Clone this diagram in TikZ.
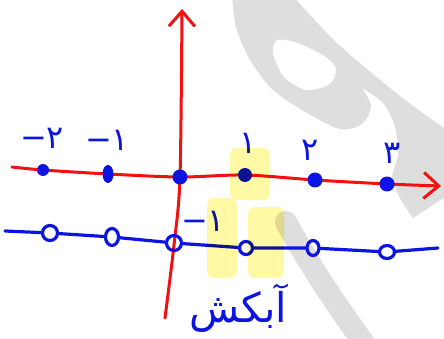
\documentclass[tikz,border=0pt]{standalone}
\usepackage{fontspec}
\usepackage{tikz}
\usetikzlibrary{arrows.meta,calc,positioning,shapes.geometric}
\TeXXeTstate=1
\newfontfamily\farsifont[Script=Arabic]{DejaVu Sans}
\newfontfamily\digitfont{DejaVu Sans}
\definecolor{inkred}{HTML}{F21010}
\definecolor{inkblue}{HTML}{0B14E0}
\definecolor{markyellow}{HTML}{FFF9A6}
\definecolor{wmgray}{HTML}{DEDEDE}
\tikzset{
  axisline/.style={line width=3pt,inkred,line cap=round,line join=round},
  axistip/.style={-{Straight Barb[length=15pt,width=26pt,line width=3pt]}},
  blueline/.style={line width=3.2pt,inkblue,line cap=round},
  dot/.style={circle,fill=inkblue,inner sep=0pt,minimum size=14pt},
  hole/.style={ellipse,draw=inkblue,line width=3.2pt,inner sep=0pt,minimum width=13pt,minimum height=13pt},
  numlabel/.style={inkblue,inner sep=0pt,font=\digitfont\fontsize{32}{32}\selectfont},
  farsiword/.style={inkblue,inner sep=0pt,font=\farsifont\fontsize{41}{41}\selectfont},
  hilite/.style={markyellow,rounded corners=7pt}
}
\begin{document}
\begin{tikzpicture}[x=1pt,y=-1pt]
  \useasboundingbox[fill=white] (0,0) rectangle (444,339);
  % watermark
  \begin{scope}
    \clip (0,0) rectangle (444,339);
    \fill[wmgray,even odd rule]
      plot[smooth] coordinates {(232,-5) (236,27) (250,60) (273,90) (307,113) (340,129) (362,124) (371,106) (362,88)}
      -- plot[smooth] coordinates {(362,88) (383,103) (395,127) (398,155) (392,178) (401,200) (413,218)}
      -- (450,194) -- (450,128)
      -- plot[smooth] coordinates {(444,128) (400,96) (338,44) (292,-5)} -- cycle
      plot[smooth cycle] coordinates {(277,40) (273,54) (284,77) (306,90) (330,84) (336,69) (326,57) (298,43)};
    \draw[wmgray,line width=22pt,line cap=round] (286,222) .. controls (300,248) and (322,285) .. (366,346);
  \end{scope}
  % axes
  \foreach \n/\x/\y in {-2/43/170,-1/108/174,0/180/177,1/245/175,2/315/180,3/387/184}
    \coordinate (c\n) at (\x,\y);
  \coordinate (xleft) at (12,167);
  \coordinate (xright) at (441,186);
  \coordinate (ybot) at (165,318);
  \coordinate (ytop) at (182,9);
  \draw[axisline,axistip] plot[smooth] coordinates {(xleft) (c-2) (c-1) (c0) (c1) (c2) (c3) (xright)};
  \draw[axisline,axistip] plot[smooth] coordinates {(ybot) (174,245) (c0) (ytop)};
  % points on the axis
  \node[dot,minimum size=12pt] (p-2) at (c-2) {};
  \node[dot,ellipse,minimum width=11pt,minimum height=18pt] (p-1) at (c-1) {};
  \node[dot,minimum size=15pt] (p0) at (c0) {};
  \node[dot] (p1) at (c1) {};
  \node[dot,minimum size=15pt] (p2) at (c2) {};
  \node[dot,minimum size=15pt] (p3) at (c3) {};
  \node[numlabel] (n-2) at (42,138) {−۲};
  \node[numlabel] (n-1) at (107,140) {−۱};
  \node[numlabel] (n1) at (248,143) {۱};
  \node[numlabel] (n2) at (310,150) {۲};
  \node[numlabel] (n3) at (392,153) {۳};
  % lower line with holes
  \coordinate (lstart) at (5,231);
  \coordinate (lend) at (438,248);
  \node[hole,minimum width=15pt,minimum height=15pt] (h-2) at (50,233) {};
  \node[hole,minimum width=13pt,minimum height=17pt] (h-1) at (112,237) {};
  \node[hole,minimum width=15pt,minimum height=15pt] (h0) at (174,243) {};
  \node[hole] (h1) at (246,248) {};
  \node[hole,minimum width=12pt,minimum height=15pt] (h2) at (313,248) {};
  \node[hole,minimum width=15pt,minimum height=13pt] (h3) at (387,252) {};
  \draw[blueline] (lstart) -- (h-2) -- (h-1) -- (h0) -- (h1) -- (h2) -- (h3) -- (lend);
  \node[numlabel] (m-1) at (203,221) {−۱};
  \node[farsiword] (word) at (238,308) {\beginR آبکش\endR};
  % highlighter
  \begin{scope}[blend mode=multiply]
    \fill[hilite] (230,148) rectangle (270,200);
    \fill[hilite] (207,198) rectangle (237,278);
    \fill[hilite] (248,207) rectangle (284,278);
  \end{scope}
\end{tikzpicture}
\end{document}
